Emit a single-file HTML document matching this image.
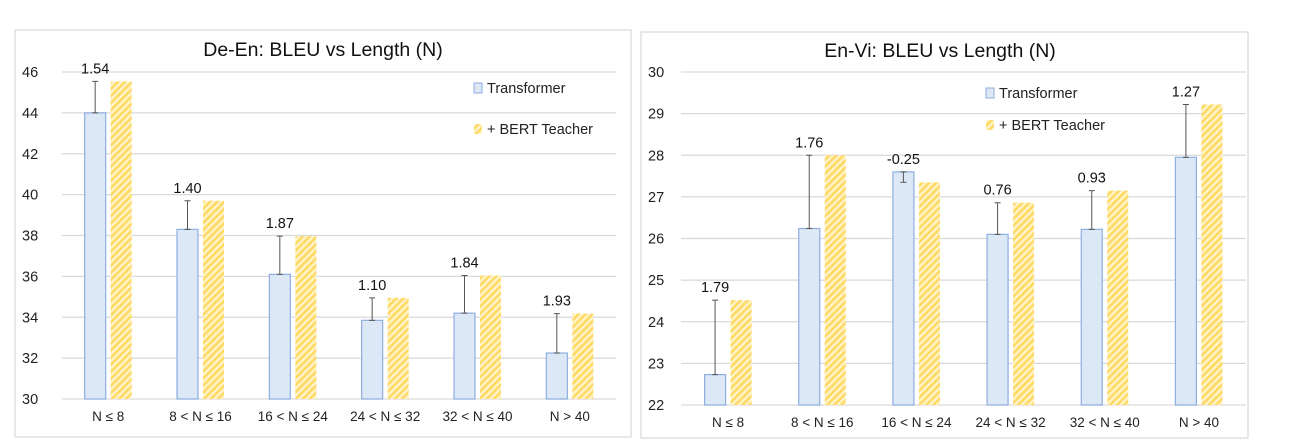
<!DOCTYPE html>
<html><head><meta charset="utf-8"><style>
body{margin:0;background:#fff;}
svg{display:block;font-family:"Liberation Sans",sans-serif;}
</style></head><body>
<svg id="svg" width="1290" height="448" xmlns="http://www.w3.org/2000/svg">
<defs>
<pattern id="hatch" patternUnits="userSpaceOnUse" width="5" height="5" patternTransform="rotate(45)">
<rect width="5" height="5" fill="#fff3c4"/>
<rect width="2.5" height="5" fill="#ffd966"/>
</pattern>
</defs>
</svg>
<script>
const categories=["N \u2264 8","8 < N \u2264 16","16 < N \u2264 24","24 < N \u2264 32","32 < N \u2264 40","N > 40"];
const deTransformer=[44.0,38.3,36.1,33.85,34.2,32.25];
const deBert=[45.54,39.7,37.97,34.95,36.04,34.18];
const deLabels=["1.54","1.40","1.87","1.10","1.84","1.93"];
const deTicks=[30,32,34,36,38,40,42,44,46];
const viTransformer=[22.73,26.24,27.6,26.1,26.22,27.95];
const viBert=[24.52,28.0,27.35,26.86,27.15,29.22];
const viLabels=["1.79","1.76","-0.25","0.76","0.93","1.27"];
const viTicks=[22,23,24,25,26,27,28,29,30];
const NS="http://www.w3.org/2000/svg";
const svg=document.getElementById('svg');
function mk(tag,attrs,parent,text){const e=document.createElementNS(NS,tag);for(const k in attrs)e.setAttribute(k,attrs[k]);if(text!==undefined)e.textContent=text;(parent||svg).appendChild(e);return e;}
function chart(o){
  const g=mk('g',{});
  
  
  const fr=mk('rect',{x:o.fx,y:o.fy,width:o.fw,height:o.fh,fill:'#fff',stroke:'#d9d9d9','stroke-width':1.2},g);
  
  
  const t=mk('text',{x:o.tx,y:o.ty,'font-size':19.5,'text-anchor':'middle',fill:'#111'},g,o.title);
  
  
  const ymin=o.ticks[0],ymax=o.ticks[o.ticks.length-1];
  const y=v=>o.y1-(v-ymin)/(ymax-ymin)*(o.y1-o.y0);
  const gw=(o.x1-o.x0)/categories.length;
  o.ticks.forEach(tv=>{
    const l=mk('line',{x1:o.x0,x2:o.x1,y1:y(tv),y2:y(tv),stroke:'#d9d9d9','stroke-width':1.2},g);
    
    
    const tl=mk('text',{x:o.tickX,y:y(tv)+5,'font-size':14.5,fill:'#222'},g,String(tv));
    
    
  });
  categories.forEach((c,i)=>{
    const cx=o.x0+gw*(i+0.5);
    const bw=21;
    const a=o.trans[i],b=o.bert[i];
    const r1=mk('rect',{x:cx-bw-2.5,y:y(a),width:bw,height:y(ymin)-y(a),fill:'#dde8f6',stroke:'#8eaee0','stroke-width':1.2},g);
    
    
    const r2=mk('rect',{x:cx+2.5,y:y(b),width:bw,height:y(ymin)-y(b),fill:'url(#hatch)'},g);
    
    
    const ex=cx-bw/2-2.5;
    const e=mk('path',{d:`M${ex},${y(a)}V${y(b)}M${ex-3},${y(b)}H${ex+3}M${ex-3},${y(a)}H${ex+3}`,stroke:'#555','stroke-width':1,fill:'none'},g);
    
    
    const ly=Math.min(y(a),y(b))-8;
    const vl=mk('text',{x:ex,y:ly,'font-size':14.5,'text-anchor':'middle',fill:'#111'},g,o.labels[i]);
    
    
    const xl=mk('text',{x:cx,y:o.y1+22,'font-size':13.5,'text-anchor':'middle',fill:'#222'},g,c);
    
    
  });
  const l1=mk('rect',{x:o.lx,y:o.ly1-9,width:8,height:10,fill:'#dde8f6',stroke:'#8eaee0'},g);
  
  
  const lt1=mk('text',{x:o.lx+13,y:o.ly1+1,'font-size':14.5,fill:'#222'},g,'Transformer');
  
  
  const l2=mk('rect',{x:o.lx,y:o.ly2-9,width:8,height:10,fill:'url(#hatch)'},g);
  
  
  const lt2=mk('text',{x:o.lx+13,y:o.ly2+1,'font-size':14.5,fill:'#222'},g,'+ BERT Teacher');
  
  
}
chart({name:'de-en-chart',fx:15,fy:30,fw:616,fh:407,title:'De-En: BLEU vs Length (N)',tx:323,ty:56,
  x0:62,x1:616,y0:72,y1:399,ticks:deTicks,trans:deTransformer,bert:deBert,labels:deLabels,tickX:22,lx:474,ly1:92,ly2:133});
chart({name:'en-vi-chart',fx:641,fy:32,fw:607,fh:406,title:'En-Vi: BLEU vs Length (N)',tx:940,ty:57,
  x0:681,x1:1246,y0:72,y1:405,ticks:viTicks,trans:viTransformer,bert:viBert,labels:viLabels,tickX:648,lx:986,ly1:97,ly2:129});
</script>
</body></html>
